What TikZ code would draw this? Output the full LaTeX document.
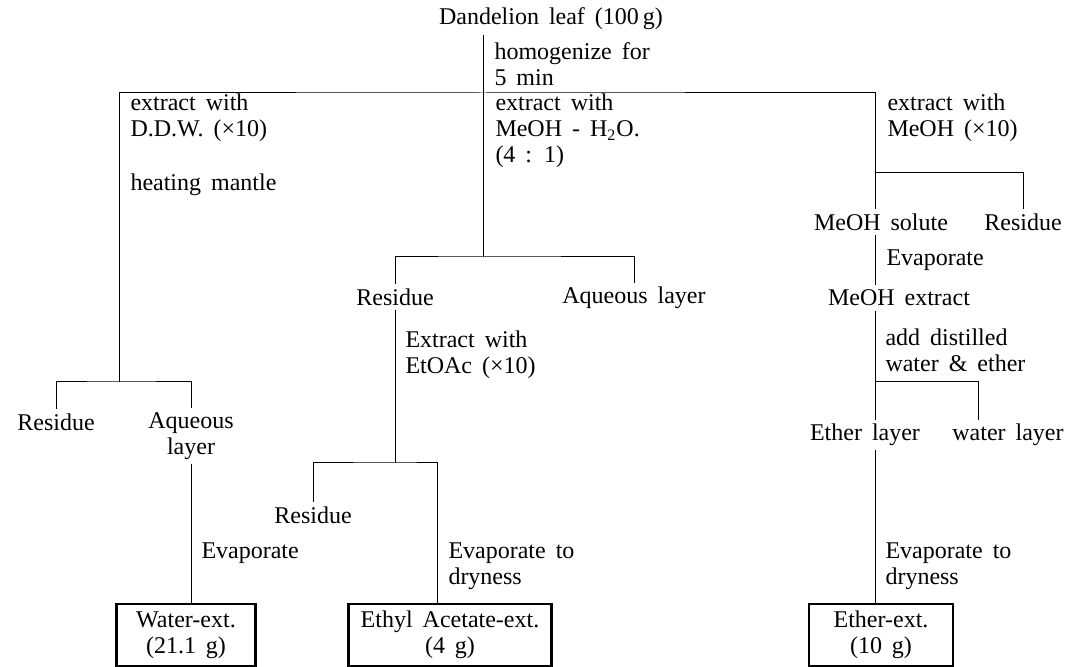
\documentclass[tikz,border=0pt]{standalone}
\usepackage{fontspec}
\setmainfont{Liberation Serif}
\newcommand\widesp{\spaceskip=5pt plus 1pt minus 1pt\relax}
\begin{document}
\begin{tikzpicture}[x=0.5pt, y=-0.5pt, line width=0.5pt,
    every node/.style={font=\fontsize{12}{13}\selectfont\widesp, inner sep=2pt},
    cond/.style={anchor=west, align=left},
    outbox/.style={draw, line width=1.2pt, align=center, minimum height=31pt, anchor=north, inner sep=0pt}]
  \useasboundingbox (0,0) rectangle (1088,667);
  \node (leaf) at (551,19) {Dandelion leaf (100\,g)};
  \node[cond] (homog) at (490,64) {homogenize for\\5 min};
  \node[cond] (ddw) at (126,118) {extract with\\D.D.W. (×10)};
  \node[cond] (heat) at (126,185) {heating mantle};
  \node[cond] (mix) at (491,131) {extract with\\MeOH - H\textsubscript{2}O.\\(4 : 1)};
  \node[cond] (meth) at (883,118) {extract with\\MeOH (×10)};
  \node (res1) at (56,422) {Residue};
  \node[align=center] (aq1) at (191,436) {Aqueous\\layer};
  \node (res2) at (395,297) {Residue};
  \node (aq2) at (634,298) {Aqueous layer};
  \node (res3) at (313,515) {Residue};
  \node (solute) at (881,222) {MeOH solute};
  \node (res4) at (1023,222) {Residue};
  \node (extr) at (899,298) {MeOH extract};
  \node (ether) at (865,435) {Ether layer};
  \node (wlayer) at (1008,435) {water layer};
  \node[cond] (ev1) at (197,553) {Evaporate};
  \node[cond] (etoac) at (401,355) {Extract with\\EtOAc (×10)};
  \node[cond] (ev2) at (444,566) {Evaporate to\\dryness};
  \node[cond] (ev3) at (882,260) {Evaporate};
  \node[cond] (add) at (881,350) {add distilled\\water \& ether};
  \node[cond] (ev4) at (881,566) {Evaporate to\\dryness};
  \node[outbox, minimum width=69.5pt] (water) at (186,603) {Water-ext.\\(21.1 g)};
  \node[outbox, minimum width=101.5pt] (ethyl) at (450,603) {Ethyl Acetate-ext.\\(4 g)};
  \node[outbox, minimum width=72pt] (etherx) at (881,603) {Ether-ext.\\(10 g)};
  \coordinate (top) at (483,93);
  \coordinate (jm) at (483,257);
  \coordinate (jl) at (119,382);
  \coordinate (jr) at (875,173);
  \coordinate (je) at (395,463);
  \coordinate (jx) at (875,382);
  \coordinate (ed) at (437,603);
  \coordinate (wd) at (978,413);
  \draw (leaf.south -| jm) -- (jm);
  \draw (jl) |- (top) -| (jr);
  \draw (res1.north) |- (jl) -| (aq1.north);
  \draw (aq1.south) -- (aq1.south |- water.north);
  \draw (res2.north) |- (jm) -| (aq2.north);
  \draw (res2.south) -- (je);
  \draw (res3.north) |- (je) -| (ed);
  \draw (solute.north -| jr) -- (jr) -| (res4.north);
  \draw (solute.south -| jr) -- (extr.north -| jr);
  \draw (extr.south -| jr) -- (jx);
  \draw (ether.north -| jx) -- (jx) -| (wlayer.north -| wd);
  \draw (ether.south -| jx) -- (etherx.north -| jx);
\end{tikzpicture}
\end{document}
